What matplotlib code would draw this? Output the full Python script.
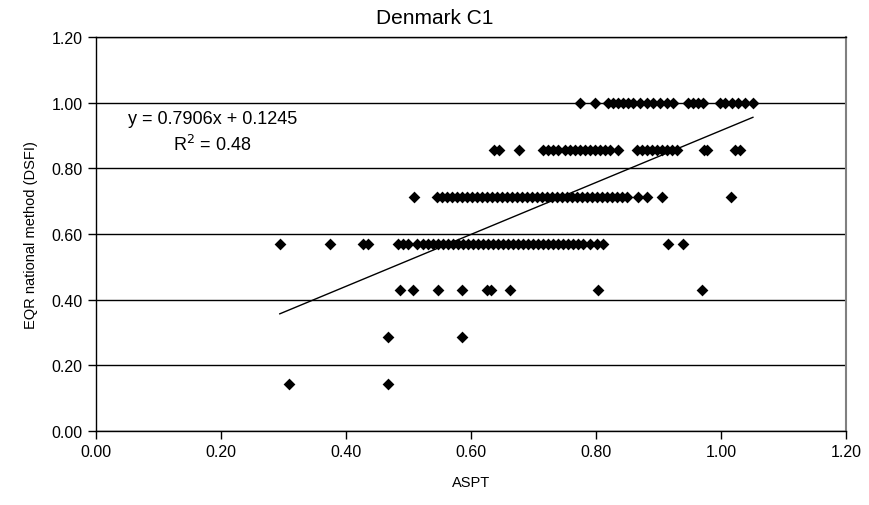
import matplotlib.pyplot as plt
from matplotlib.ticker import MultipleLocator, FormatStrFormatter

plt.rcParams["font.family"] = ["Liberation Sans", "DejaVu Sans"]

# ASPT values for each EQR (DSFI) level
aspt_100 = [0.774, 0.798, 0.819, 0.827, 0.835, 0.843, 0.851, 0.859, 0.870, 0.882,
            0.891, 0.902, 0.914, 0.923, 0.947, 0.955, 0.963, 0.971, 0.998, 1.006,
            1.018, 1.027, 1.038, 1.051]
aspt_086 = [0.637, 0.645, 0.677, 0.715, 0.723, 0.731, 0.739, 0.750, 0.758, 0.766,
            0.774, 0.782, 0.790, 0.798, 0.806, 0.814, 0.822, 0.835, 0.866, 0.874,
            0.882, 0.890, 0.898, 0.906, 0.914, 0.922, 0.930, 0.973, 0.978, 1.022,
            1.030]
aspt_071 = [0.509, 0.546, 0.554, 0.562, 0.570, 0.578, 0.586, 0.594, 0.602, 0.610,
            0.618, 0.626, 0.634, 0.642, 0.650, 0.658, 0.666, 0.674, 0.682, 0.690,
            0.698, 0.706, 0.714, 0.722, 0.730, 0.738, 0.746, 0.754, 0.762, 0.770,
            0.778, 0.786, 0.794, 0.802, 0.810, 0.818, 0.826, 0.834, 0.842, 0.850,
            0.867, 0.882, 0.906, 1.016]
aspt_057 = [0.294, 0.374, 0.427, 0.435, 0.483, 0.491, 0.499, 0.514, 0.523, 0.531,
            0.539, 0.547, 0.555, 0.563, 0.571, 0.579, 0.587, 0.595, 0.603, 0.611,
            0.619, 0.627, 0.635, 0.643, 0.651, 0.659, 0.667, 0.675, 0.683, 0.691,
            0.699, 0.707, 0.715, 0.723, 0.731, 0.739, 0.747, 0.755, 0.763, 0.771,
            0.779, 0.790, 0.802, 0.811, 0.915, 0.939]
aspt_043 = [0.486, 0.507, 0.547, 0.586, 0.626, 0.632, 0.662, 0.803, 0.970]
aspt_029 = [0.467, 0.586]
aspt_014 = [0.309, 0.467]

rows = [
    (1.000, aspt_100),
    (0.857, aspt_086),
    (0.714, aspt_071),
    (0.571, aspt_057),
    (0.429, aspt_043),
    (0.286, aspt_029),
    (0.143, aspt_014),
]

# trend line reported on the chart
slope = 0.7906
intercept = 0.1245
r2 = 0.48

x = []
y = []
for level, vals in rows:
    x += vals
    y += [level] * len(vals)

fig = plt.figure(figsize=(8.69, 5.06), dpi=100)
ax = fig.add_axes([0.1105, 0.1462, 0.8631, 0.7787])

ax.set_axisbelow(True)
ax.grid(axis="y", color="black", linewidth=1.0)
ax.scatter(x, y, marker="D", s=36, color="black", linewidths=0, zorder=3)

x0, x1 = min(x), max(x)
ax.plot([x0, x1], [slope * x0 + intercept, slope * x1 + intercept],
        color="black", linewidth=1.0, zorder=4)

ax.text(0.051, 0.951, f"y = {slope}x + {intercept}", fontsize=13, va="center")
ax.text(0.123, 0.875, "R$^2$ = " + f"{r2:.2f}", fontsize=13, va="center",
        math_fontfamily="dejavusans")

ax.set_xlim(0, 1.2)
ax.set_ylim(0, 1.2)
ax.xaxis.set_major_locator(MultipleLocator(0.2))
ax.yaxis.set_major_locator(MultipleLocator(0.2))
ax.xaxis.set_major_formatter(FormatStrFormatter("%.2f"))
ax.yaxis.set_major_formatter(FormatStrFormatter("%.2f"))
ax.tick_params(direction="out", length=6, width=1, labelsize=11.5, colors="black")

for side in ["left", "bottom", "top"]:
    ax.spines[side].set_color("black")
    ax.spines[side].set_linewidth(1.0)
ax.spines["right"].set_color("#808080")
ax.spines["right"].set_linewidth(1.5)

ax.set_xlabel("ASPT", fontsize=10.5)
ax.set_ylabel("EQR national method (DSFI)", fontsize=10.5)
ax.xaxis.set_label_coords(0.5, -0.112)
ax.yaxis.set_label_coords(-0.078, 0.5)

fig.text(0.5, 0.963, "Denmark C1", fontsize=15, ha="center", va="center")

fig.savefig("out.png", dpi=100)
